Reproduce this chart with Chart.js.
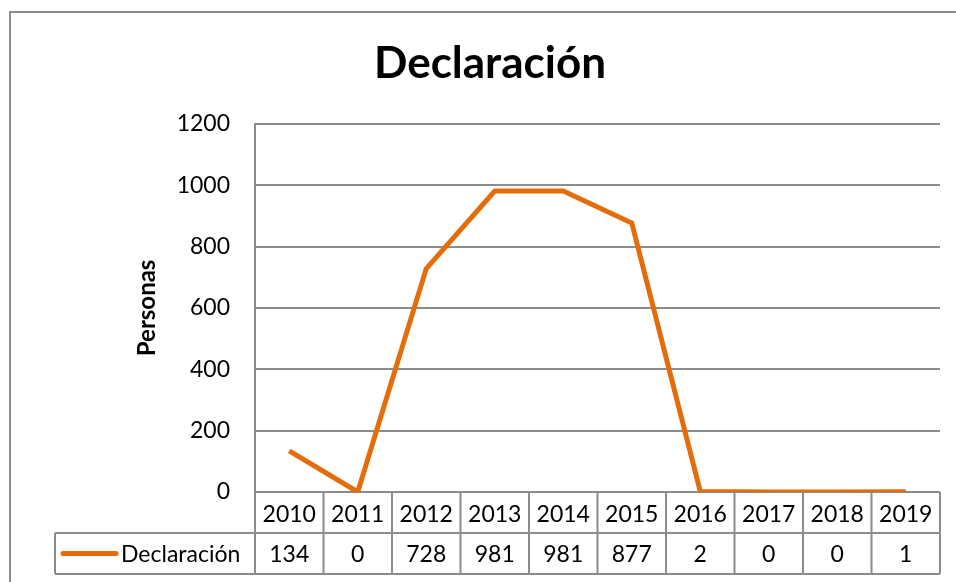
<!DOCTYPE html>
<html>
<head>
<meta charset="utf-8">
<script src="https://cdn.jsdelivr.net/npm/chart.js@4.4.1/dist/chart.umd.min.js"></script>
<style>
  html, body { margin: 0; padding: 0; background: #fff; }
  #wrap { width: 956px; height: 582px; }
</style>
</head>
<body>
<div id="wrap"><canvas id="line-chart" width="956" height="582"></canvas></div>
<script>
const years = ['2010', '2011', '2012', '2013', '2014', '2015', '2016', '2017', '2018', '2019'];
const declaracion = [134, 0, 728, 981, 981, 877, 2, 0, 0, 1];
const seriesName = 'Declaración';
const yTicks = [0, 200, 400, 600, 800, 1000, 1200];

const ORANGE = '#E46C0A';
const GRID = '#8c8c8c';
const FONT = 'Lato, "Open Sans", sans-serif';

// outer frame plus the data table under the plot (year row comes from the x ticks)
const dataTable = {
  id: 'dataTable',
  beforeDraw(chart) {
    const ctx = chart.ctx;
    ctx.save();
    ctx.strokeStyle = GRID;
    ctx.lineWidth = 2;
    ctx.strokeRect(10, 12, 1100, 800);
    ctx.restore();
  },
  afterDraw(chart) {
    const ctx = chart.ctx;
    const x = chart.scales.x;
    const area = chart.chartArea;
    const top = area.bottom;
    const mid = top + 41;
    const bottom = mid + 41;
    const legendLeft = 55;
    const step = x.getPixelForValue(1) - x.getPixelForValue(0);

    ctx.save();
    ctx.strokeStyle = GRID;
    ctx.lineWidth = 2;
    ctx.beginPath();
    // horizontal rules
    ctx.moveTo(legendLeft, mid); ctx.lineTo(area.right, mid);
    ctx.moveTo(legendLeft, bottom); ctx.lineTo(area.right, bottom);
    // column separators
    for (let i = 0; i <= years.length; i++) {
      const px = x.getPixelForValue(i) - step / 2;
      ctx.moveTo(px, top); ctx.lineTo(px, bottom);
    }
    ctx.moveTo(legendLeft, mid); ctx.lineTo(legendLeft, bottom);
    ctx.stroke();

    // legend key inside the first cell
    const rowY = (mid + bottom) / 2;
    ctx.strokeStyle = ORANGE;
    ctx.lineWidth = 5;
    ctx.lineCap = 'round';
    ctx.beginPath();
    ctx.moveTo(63, rowY); ctx.lineTo(116, rowY);
    ctx.stroke();

    ctx.fillStyle = '#000';
    ctx.font = '23px ' + FONT;
    ctx.textBaseline = 'middle';
    ctx.textAlign = 'left';
    ctx.fillText(seriesName, 121, rowY + 1);

    ctx.textAlign = 'center';
    declaracion.forEach((v, i) => {
      ctx.fillText(String(v), x.getPixelForValue(i), rowY + 1);
    });
    ctx.restore();
  }
};

new Chart(document.getElementById('line-chart').getContext('2d'), {
  type: 'line',
  data: {
    labels: years,
    datasets: [{
      label: seriesName,
      data: declaracion,
      borderColor: ORANGE,
      backgroundColor: ORANGE,
      borderWidth: 5,
      pointRadius: 0,
      tension: 0
    }]
  },
  options: {
    responsive: false,
    animation: false,
    layout: { padding: { left: 40, right: 16, top: 0, bottom: 0 } },
    plugins: {
      legend: { display: false },
      tooltip: { enabled: false },
      title: {
        display: true,
        text: seriesName,
        color: '#000',
        font: { family: FONT, size: 44, weight: 'bold', lineHeight: 1.2 },
        padding: { top: 37, bottom: 34 }
      }
    },
    scales: {
      x: {
        offset: true,
        grid: { display: false, drawTicks: false },
        border: { display: false },
        ticks: {
          color: '#000',
          padding: 9,
          maxRotation: 0,
          autoSkip: false,
          font: { family: FONT, size: 23 }
        },
        afterFit(scale) { scale.height = 90; }
      },
      y: {
        min: 0,
        max: 1200,
        afterBuildTicks(scale) { scale.ticks = yTicks.map(v => ({ value: v })); },
        grid: { color: GRID, lineWidth: 2, drawTicks: false },
        border: { display: true, color: GRID, width: 2 },
        ticks: {
          color: '#000',
          padding: 25,
          font: { family: FONT, size: 23 },
          callback: v => String(v)
        },
        title: {
          display: true,
          text: 'Personas',
          color: '#000',
          padding: { top: 93, bottom: 0 },
          font: { family: FONT, size: 24, weight: 'bold', lineHeight: 1.2 }
        },
        afterFit(scale) { scale.width = 215; }
      }
    }
  },
  plugins: [dataTable]
});
</script>
</body>
</html>
